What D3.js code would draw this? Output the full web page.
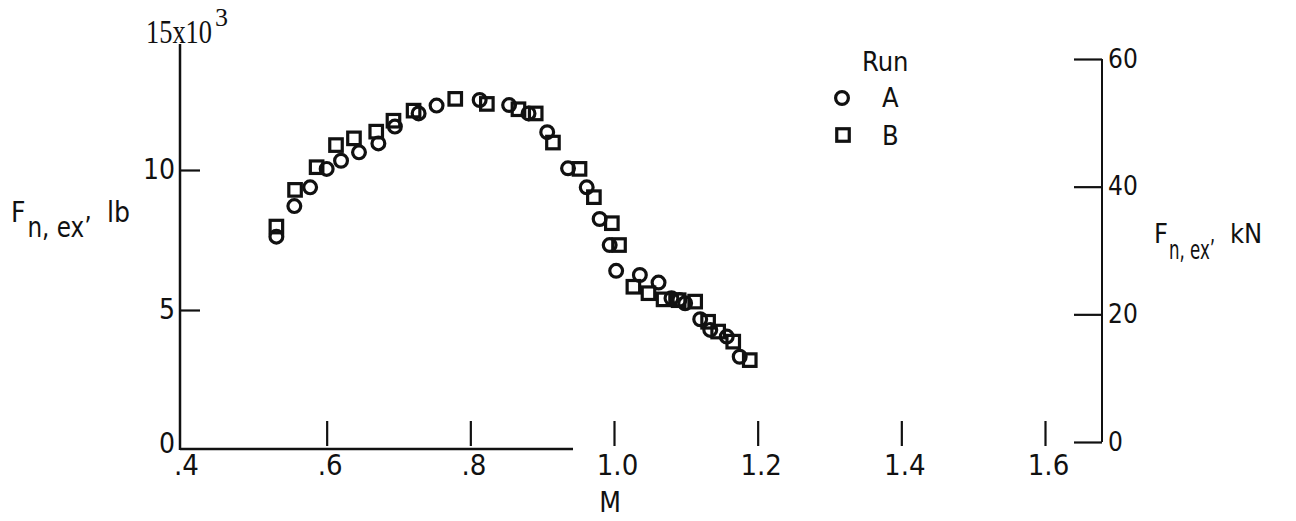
<!DOCTYPE html>
<html>
<head>
<meta charset="utf-8">
<style>
  body { margin: 0; background: #fff; }
  svg text { font-family: "Liberation Sans Narrow", "DejaVu Sans Condensed", "DejaVu Sans", sans-serif; font-stretch: condensed; fill: #111; }
  .axis path { display: none; }
  .axis line { stroke: #111; stroke-width: 2.2; }
  .mark { fill: none; stroke: #111; stroke-width: 3.2; }
</style>
</head>
<body>
<script src="https://cdn.jsdelivr.net/npm/d3@7"></script>
<script>
// run A (circles): Mach number and net exhaust thrust, thousands of lb
var machA = [0.530, 0.555, 0.577, 0.600, 0.620, 0.645, 0.672, 0.695, 0.728, 0.753, 0.813, 0.854, 0.881, 0.907,
             0.936, 0.962, 0.980, 0.994, 1.003, 1.036, 1.062, 1.080, 1.091, 1.099, 1.120, 1.134, 1.157, 1.175];
var thrustA = [7.62, 8.71, 9.38, 10.04, 10.33, 10.63, 10.95, 11.55, 12.02, 12.30, 12.50, 12.32, 12.02, 11.35,
               10.06, 9.38, 8.25, 7.32, 6.40, 6.25, 5.98, 5.42, 5.36, 5.24, 4.67, 4.29, 4.05, 3.33];

// run B (squares)
var machB = [0.530, 0.556, 0.586, 0.613, 0.638, 0.669, 0.693, 0.721, 0.779, 0.823, 0.867, 0.891, 0.915,
             0.952, 0.972, 0.997, 1.007, 1.027, 1.048, 1.069, 1.090, 1.113, 1.131, 1.145, 1.166, 1.189];
var thrustB = [7.98, 9.29, 10.10, 10.89, 11.13, 11.37, 11.76, 12.12, 12.54, 12.36, 12.17, 12.02, 10.98,
               10.04, 9.03, 8.10, 7.32, 5.83, 5.60, 5.38, 5.35, 5.30, 4.58, 4.23, 3.87, 3.21];

var machTicks = [0.4, 0.6, 0.8, 1.0, 1.2, 1.4, 1.6];
var lbTicks = [0, 5, 10];
var kNTicks = [0, 20, 40, 60];

var width = 1296, height = 521;

var x = d3.scaleLinear().domain([0.4, 1.6]).range([183, 1045]);
var y = d3.scaleLinear().domain([0, 15]).range([450, 30]);
var yKN = d3.scaleLinear().domain([0, 60]).range([442, 59]);

var svg = d3.select("body").append("svg")
    .attr("width", width)
    .attr("height", height);

// x axis: ticks point up, labels below
var xAxis = d3.axisBottom(x)
    .tickValues(machTicks)
    .tickSizeInner(-25)
    .tickSizeOuter(0)
    .tickPadding(8)
    .tickFormat(function (d) {
        var s = d3.format(".1f")(d);
        return d < 1 ? s.slice(1) : s;
    });

var gx = svg.append("g")
    .attr("class", "axis")
    .attr("transform", "translate(0,446)")
    .call(xAxis)
    .attr("font-family", null);
gx.selectAll("text").style("font-size", "29px").attr("dx", 3);
gx.selectAll(".tick").filter(function (d) { return d === 0.4; }).select("line").remove();

// baseline only runs part way
svg.append("line")
    .attr("x1", x(0.4) - 3).attr("x2", 573)
    .attr("y1", y(0) - 1).attr("y2", y(0) - 1)
    .attr("stroke", "#111").attr("stroke-width", 2.5);

svg.append("text")
    .attr("x", 610).attr("y", 512)
    .attr("text-anchor", "middle")
    .style("font-size", "28px")
    .text("M");

// left axis (lb)
var yAxis = d3.axisLeft(y)
    .tickValues(lbTicks)
    .tickSizeInner(-20)
    .tickSizeOuter(0)
    .tickPadding(5);

var gy = svg.append("g")
    .attr("class", "axis")
    .attr("transform", "translate(180,0)")
    .call(yAxis)
    .attr("font-family", null);
gy.selectAll("text").style("font-size", "28px");
gy.selectAll(".tick").filter(function (d) { return d === 0; }).select("line").remove();
gy.selectAll(".tick").filter(function (d) { return d === 0; }).select("text").attr("dy", "0.1em");

svg.append("line")
    .attr("x1", 180).attr("x2", 180)
    .attr("y1", y(0)).attr("y2", 44)
    .attr("stroke", "#111").attr("stroke-width", 2.5);

var topLabel = svg.append("text")
    .attr("x", 146).attr("y", 43)
    .style("font-family", "'Liberation Serif', 'DejaVu Serif', serif")
    .style("font-stretch", "normal")
    .style("font-size", "33px");
topLabel.append("tspan").attr("textLength", 66).attr("lengthAdjust", "spacingAndGlyphs").text("15x10");
topLabel.append("tspan").attr("dx", 3).attr("dy", -17).style("font-size", "26px").text("3");

var leftTitle = svg.append("text")
    .attr("x", 11).attr("y", 222)
    .style("font-size", "28px");
leftTitle.append("tspan").text("F");
leftTitle.append("tspan").attr("dy", 15).attr("dx", 2)
    .attr("textLength", 64).attr("lengthAdjust", "spacingAndGlyphs").text("n, ex’");
svg.append("text")
    .attr("x", 107).attr("y", 222)
    .style("font-size", "28px")
    .text("lb");

// right axis (kN)
var kAxis = d3.axisRight(yKN)
    .tickValues(kNTicks)
    .tickSizeInner(-28)
    .tickSizeOuter(0)
    .tickPadding(6);

var gk = svg.append("g")
    .attr("class", "axis")
    .attr("transform", "translate(1102,0)")
    .call(kAxis)
    .attr("font-family", null);
gk.selectAll("text").style("font-size", "26px");
gk.selectAll(".tick").filter(function (d) { return d === 0; }).select("line").attr("stroke-width", 3.5);

svg.append("line")
    .attr("x1", 1102).attr("x2", 1102)
    .attr("y1", yKN(0)).attr("y2", yKN(60))
    .attr("stroke", "#111").attr("stroke-width", 2);

var rightTitle = svg.append("text")
    .attr("x", 1154).attr("y", 243)
    .style("font-size", "27px");
rightTitle.append("tspan").text("F");
rightTitle.append("tspan").attr("dy", 16).attr("dx", 1)
    .attr("textLength", 46).attr("lengthAdjust", "spacingAndGlyphs").text("n, ex’");
svg.append("text")
    .attr("x", 1230).attr("y", 243)
    .style("font-size", "27px")
    .text("kN");

// data points
var dataA = machA.map(function (m, i) { return { m: m, f: thrustA[i] }; });
var dataB = machB.map(function (m, i) { return { m: m, f: thrustB[i] }; });

svg.append("g").selectAll("circle")
    .data(dataA)
    .enter().append("circle")
    .attr("class", "mark")
    .attr("cx", function (d) { return x(d.m); })
    .attr("cy", function (d) { return y(d.f); })
    .attr("r", 6.4);

var side = 12.5;
svg.append("g").selectAll("rect")
    .data(dataB)
    .enter().append("rect")
    .attr("class", "mark")
    .attr("x", function (d) { return x(d.m) - side / 2; })
    .attr("y", function (d) { return y(d.f) - side / 2; })
    .attr("width", side)
    .attr("height", side);

// legend
var legend = svg.append("g");
legend.append("text").attr("x", 862).attr("y", 71).style("font-size", "27px").text("Run");
legend.append("circle").attr("class", "mark").attr("cx", 842).attr("cy", 98).attr("r", 6.4);
legend.append("text").attr("x", 882).attr("y", 107).style("font-size", "27px").text("A");
legend.append("rect").attr("class", "mark")
    .attr("x", 843 - side / 2).attr("y", 135 - side / 2).attr("width", side).attr("height", side);
legend.append("text").attr("x", 882).attr("y", 145).style("font-size", "27px").text("B");
</script>
</body>
</html>
